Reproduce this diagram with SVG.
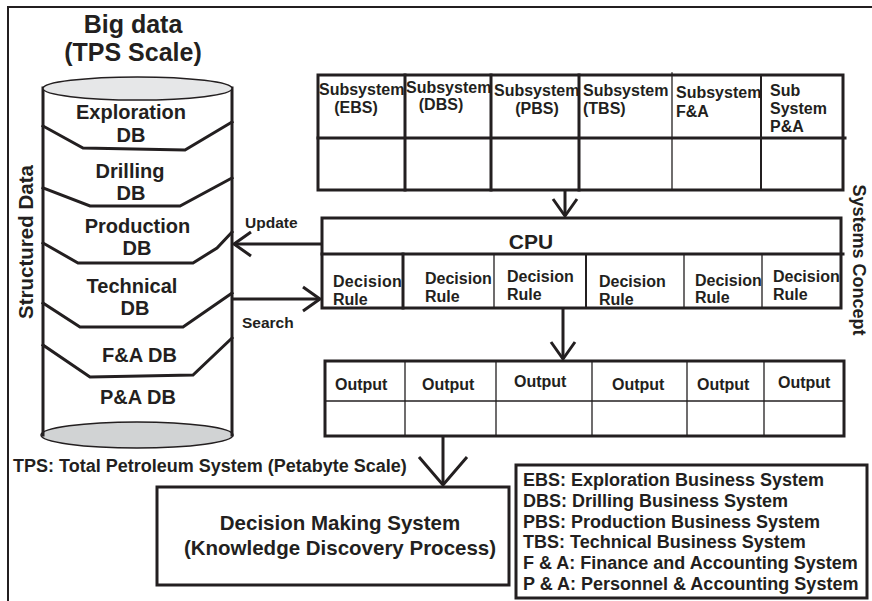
<svg xmlns="http://www.w3.org/2000/svg" width="872" height="601" viewBox="0 0 872 601">
  <style>
    text { font-family: "Liberation Sans", Arial, sans-serif; font-weight: bold; fill: #231f20; }
    .ln { fill: none; stroke: #231f20; stroke-linecap: square; }
    .thick { stroke-width: 3; }
    .mid { stroke-width: 2; }
    .thin { stroke-width: 1.3; }
    .box { fill: #ffffff; stroke: #231f20; stroke-width: 3; }
    .t16 { font-size: 16px; }
    .t20 { font-size: 20px; }
    .t18 { font-size: 18px; }
    .conn { fill: none; stroke: #231f20; stroke-width: 3; }
  </style>
  <defs>
    <marker id="vee" markerUnits="userSpaceOnUse" markerWidth="24" markerHeight="30" viewBox="0 0 24 30" refX="20" refY="15" orient="auto">
      <path d="M3,3 L20,15 L3,27" fill="none" stroke="#231f20" stroke-width="3"/>
    </marker>
    <marker id="vee-lg" markerUnits="userSpaceOnUse" markerWidth="36" markerHeight="56" viewBox="0 0 36 56" refX="31" refY="28" orient="auto">
      <path d="M3,4 L31,28 L3,52" fill="none" stroke="#231f20" stroke-width="3"/>
    </marker>
  </defs>

  <rect width="872" height="601" fill="#ffffff"/>

  <!-- outer frame (top and left edges) -->
  <g id="frame">
    <path class="ln" stroke-width="2" d="M8,601 L8,7 L872,7"/>
  </g>

  <!-- title and side captions -->
  <g id="captions">
    <text x="133" y="33" text-anchor="middle" style="font-size:25px">Big data</text>
    <text x="133" y="61" text-anchor="middle" style="font-size:25px">(TPS Scale)</text>
    <text transform="translate(33,242) rotate(-90)" text-anchor="middle" style="font-size:20.5px">Structured Data</text>
    <text transform="translate(853,260) rotate(90)" text-anchor="middle" class="t18">Systems Concept</text>
    <text x="13" y="472" class="t18">TPS: Total Petroleum System (Petabyte Scale)</text>
  </g>

  <!-- database cylinder -->
  <g id="bigdata-db">
    <rect x="43" y="88" width="189" height="347" fill="#ffffff"/>
    <ellipse cx="137" cy="435" rx="96" ry="13" fill="#d1d3d4" stroke="#231f20" stroke-width="1.5"/>
    <path class="ln thick" d="M43,88 L43,435 M232,88 L232,435"/>
    <ellipse cx="137.5" cy="88.5" rx="94.5" ry="11.5" fill="#e6e7e8" stroke="#231f20" stroke-width="1.5"/>
    <path class="ln thick" d="M43,126 L83,148 L185,150 L232,122"/>
    <path class="ln thick" d="M43,188 L90,206 L180,206 L232,178"/>
    <path class="ln thick" d="M43,243 L78,263 L193,263 L217,248 L232,232"/>
    <path class="ln thick" d="M43,303 L80,327 L183,327 L232,293"/>
    <path class="ln thick" d="M43,345 L90,377 L193,375 L232,338"/>
    <g class="t20" text-anchor="middle">
      <text x="131" y="119">Exploration</text>
      <text x="131" y="142">DB</text>
      <text x="130" y="178">Drilling</text>
      <text x="131" y="200">DB</text>
      <text x="137.5" y="233">Production</text>
      <text x="137" y="255">DB</text>
      <text x="132" y="293">Technical</text>
      <text x="135" y="315">DB</text>
      <text x="139.5" y="362">F&amp;A DB</text>
      <text x="138" y="404">P&amp;A DB</text>
    </g>
  </g>

  <!-- subsystem table -->
  <g id="subsystems">
    <rect class="box" x="318" y="75" width="525" height="115"/>
    <path class="ln thick" d="M318,138 L845,138"/>
    <path class="ln thick" d="M405,75 L405,190 M491,75 L491,190 M579,75 L579,190"/>
    <path class="ln thin" d="M672,73 L672,190"/>
    <path class="ln mid" d="M761,75 L761,190"/>
    <g class="t16">
      <text x="319" y="95">Subsystem</text>
      <text x="356" y="113" text-anchor="middle">(EBS)</text>
      <text x="406" y="93">Subsystem</text>
      <text x="441" y="110" text-anchor="middle">(DBS)</text>
      <text x="494" y="96">Subsystem</text>
      <text x="537" y="114" text-anchor="middle">(PBS)</text>
      <text x="583" y="96">Subsystem</text>
      <text x="583" y="114">(TBS)</text>
      <text x="676" y="98">Subsystem</text>
      <text x="676" y="117">F&amp;A</text>
      <text x="770" y="96">Sub</text>
      <text x="770" y="114">System</text>
      <text x="770" y="132">P&amp;A</text>
    </g>
  </g>

  <!-- processing unit with decision rules -->
  <g id="cpu">
    <rect class="box" x="322" y="218" width="519" height="90"/>
    <path class="ln thick" d="M322,254 L843,254"/>
    <path class="ln thick" d="M403,254 L403,308"/>
    <path class="ln thin" d="M494,254 L494,308 M684,254 L684,308 M762,254 L762,308"/>
    <path class="ln mid" d="M586,254 L586,308"/>
    <text x="531" y="249" text-anchor="middle" style="font-size:21px">CPU</text>
    <g class="t16">
      <text x="333" y="287" letter-spacing="0.3">Decision</text>
      <text x="333" y="305">Rule</text>
      <text x="425" y="284">Decision</text>
      <text x="425" y="302">Rule</text>
      <text x="507" y="282">Decision</text>
      <text x="507" y="300">Rule</text>
      <text x="599" y="287">Decision</text>
      <text x="599" y="305">Rule</text>
      <text x="695" y="286">Decision</text>
      <text x="695" y="303">Rule</text>
      <text x="773" y="282">Decision</text>
      <text x="773" y="300">Rule</text>
    </g>
  </g>

  <!-- output table -->
  <g id="outputs">
    <rect class="box" x="325" y="361" width="519" height="75"/>
    <path class="ln thin" d="M325,401 L844,401"/>
    <path class="ln thin" d="M405,361 L405,436 M496,361 L496,436 M592,361 L592,436 M687,361 L687,436 M764,361 L764,436"/>
    <g class="t16">
      <text x="335" y="390">Output</text>
      <text x="422" y="390">Output</text>
      <text x="514" y="387">Output</text>
      <text x="612" y="390">Output</text>
      <text x="697" y="390">Output</text>
      <text x="778" y="388">Output</text>
    </g>
  </g>

  <!-- decision making system -->
  <g id="decision-making">
    <rect class="box" x="157" y="487" width="352" height="98"/>
    <text x="340" y="530" text-anchor="middle" style="font-size:20.5px">Decision Making System</text>
    <text x="340" y="555" text-anchor="middle" style="font-size:20.5px">(Knowledge Discovery Process)</text>
  </g>

  <!-- abbreviations -->
  <g id="legend">
    <rect class="box" x="516" y="465" width="351" height="133"/>
    <g class="t18">
      <text x="523" y="486">EBS: Exploration Business System</text>
      <text x="523" y="507">DBS: Drilling Business System</text>
      <text x="523" y="528">PBS: Production Business System</text>
      <text x="523" y="548">TBS: Technical Business System</text>
      <text x="523" y="569">F &amp; A: Finance and Accounting System</text>
      <text x="523" y="590">P &amp; A: Personnel &amp; Accounting System</text>
    </g>
  </g>

  <!-- connectors -->
  <g id="connectors">
    <path class="conn" d="M322,244 L234,244" marker-end="url(#vee)"/>
    <text x="245" y="228" style="font-size:15.5px">Update</text>
    <path class="conn" d="M232,299 L320,299" marker-end="url(#vee)"/>
    <text x="242" y="328" style="font-size:15.5px">Search</text>
    <path class="conn" d="M565,190 L565,216" marker-end="url(#vee)"/>
    <path class="conn" d="M563,308 L563,359" marker-end="url(#vee)"/>
    <path class="conn" d="M443,436 L443,485" marker-end="url(#vee-lg)"/>
  </g>
</svg>
